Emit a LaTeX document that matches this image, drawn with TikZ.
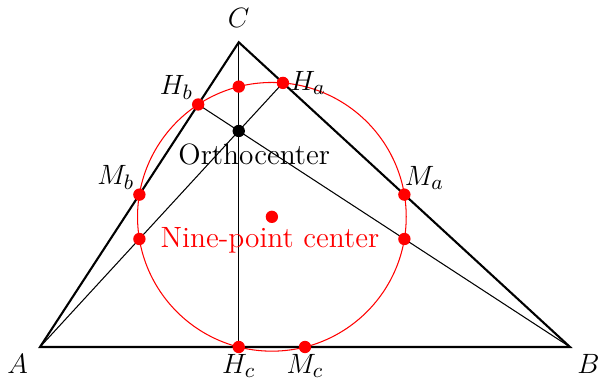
\documentclass[tikz,border=0pt]{standalone}
\usetikzlibrary{calc}
\begin{document}
\begin{tikzpicture}[
  font=\fontsize{12.6}{15}\selectfont,
  side/.style={line width=0.9pt},
  alt/.style={line width=0.45pt},
  rdot/.style={circle,fill=red,inner sep=0pt,minimum size=5.3pt},
  bdot/.style={circle,fill=black,inner sep=0pt,minimum size=5.3pt},
  lab/.style={inner sep=2pt}
]
\useasboundingbox (-0.604,-0.513) rectangle (8.453,5.238);
\coordinate (A) at (0,0);
\coordinate (B) at (8,0);
\coordinate (C) at (3,4.6);
\coordinate (H) at (3,3.2609);
\coordinate (Ha) at (3.6667,3.9866);
\coordinate (Hb) at (2.3873,3.6606);
\coordinate (Hc) at (3,0);
\coordinate (Ma) at (5.5,2.3);
\coordinate (Mb) at (1.5,2.3);
\coordinate (Mc) at (4,0);
\coordinate (N) at (3.5,1.9652);
\coordinate (Pa) at (1.5,1.6304);
\coordinate (Pb) at (5.5,1.6304);
\coordinate (Pc) at (3,3.9304);
% nine-point circle
\draw[red,line width=0.45pt] (N) circle (2.0279);
% altitudes
\draw[alt] (A) -- (Ha);
\draw[alt] (B) -- (Hb);
\draw[alt] (C) -- (Hc);
% triangle
\draw[side,line join=miter] (A) -- (B) -- (C) -- cycle;
% dots
\foreach \p in {Ha,Hb,Hc,Ma,Mb,Mc,N,Pa,Pb,Pc} \node[rdot] at (\p) {};
\node[bdot] (Hdot) at (H) {};
% labels
\node[lab,above=4pt] (lC) at (C) {$C$};
\node[lab,below left=1pt,xshift=-2pt] (lA) at (A) {$A$};
\node[lab,below right=1pt] (lB) at (B) {$B$};
\node[lab,right=1pt] (lHa) at (Ha) {$H_a$};
\node[lab,above left=0pt] (lHb) at (Hb) {$H_b$};
\node[lab,below=1pt] (lHc) at (Hc) {$H_c$};
\node[lab,above right=0pt,xshift=-2pt] (lMa) at (Ma) {$M_a$};
\node[lab,above left=0pt] (lMb) at (Mb) {$M_b$};
\node[lab,below=1pt] (lMc) at (Mc) {$M_c$};
\node[lab] (lH) at ($(H)+(0.234,-0.36)$) {Orthocenter};
\node[lab,text=red] (lN) at ($(N)+(-0.03,-0.36)$) {Nine-point center};
\end{tikzpicture}
\end{document}
